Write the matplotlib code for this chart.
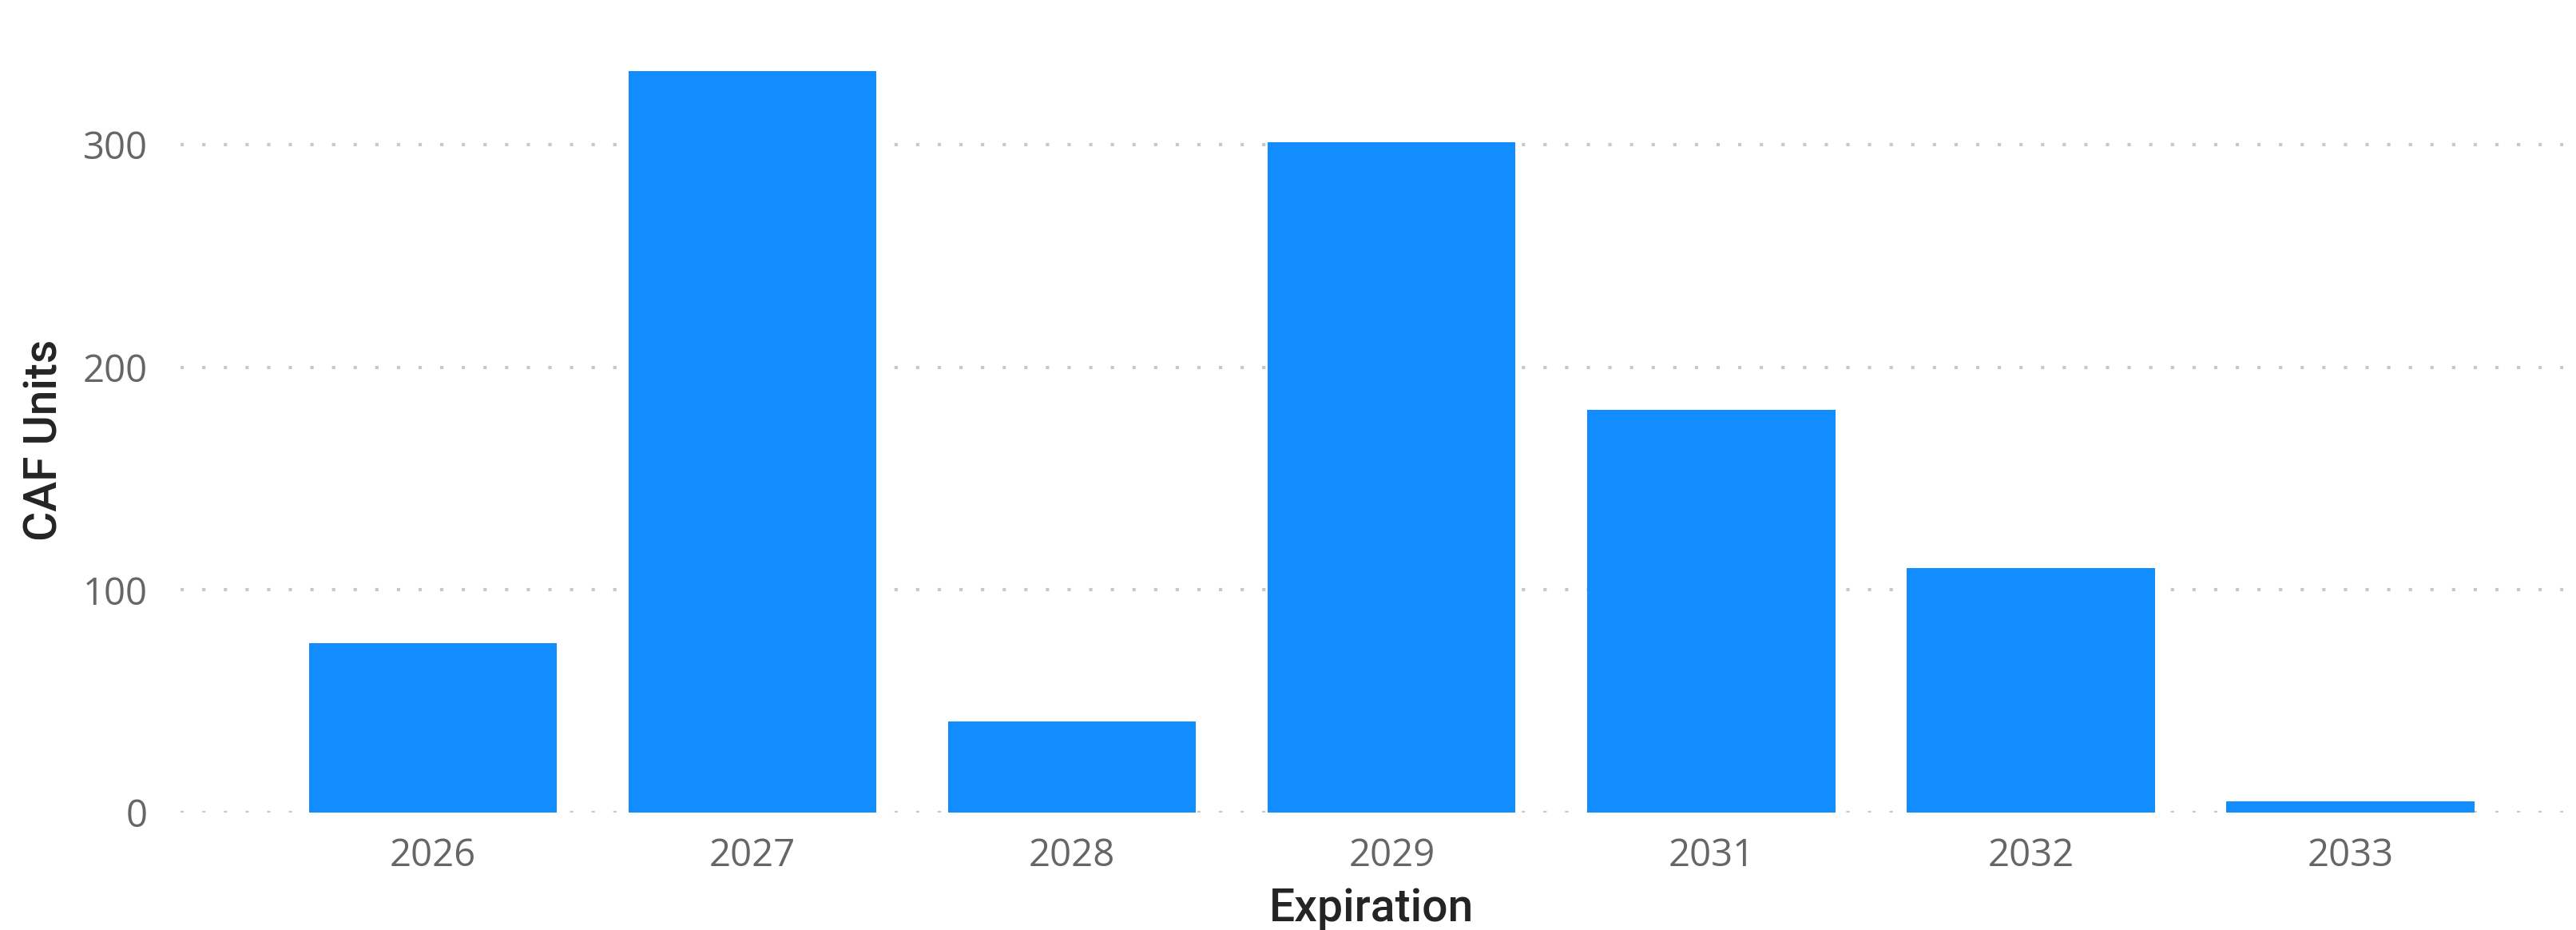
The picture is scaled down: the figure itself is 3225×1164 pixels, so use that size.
import numpy as np
import matplotlib
matplotlib.use("Agg")
import matplotlib.pyplot as plt

# data
years = ["2026", "2027", "2028", "2029", "2031", "2032", "2033"]
units = [76, 333, 41, 301, 181, 110, 5]
yticks = [0, 100, 200, 300]

bar_color = "#118DFF"
tick_color = "#666666"
title_color = "#252423"

fig = plt.figure(figsize=(32.25, 11.64), dpi=100)
ax = fig.add_axes([0.0701, 0.1262, 0.9249, 0.802])

x = np.arange(len(years))
ax.bar(x, units, width=0.776, color=bar_color, zorder=3)

ax.set_xlim(-0.79, len(years) - 1 + 0.666)
ax.set_ylim(0, 335)
ax.set_yticks(yticks)
ax.set_xticks(x)
ax.set_xticklabels(years)

ax.yaxis.grid(True, color="#C8C8C8", linewidth=3, linestyle=(0, (1, 5.5)),
              dash_capstyle="butt", zorder=0)
ax.xaxis.grid(False)
for s in ax.spines.values():
    s.set_visible(False)

ax.tick_params(axis="both", length=0, labelcolor=tick_color, labelsize=34)
ax.tick_params(axis="y", pad=30)
ax.tick_params(axis="x", pad=22)
for lab in ax.get_xticklabels() + ax.get_yticklabels():
    lab.set_family("Open Sans")

ax.set_xlabel("Expiration", fontsize=41, color=title_color, family="Roboto",
              fontweight="medium", labelpad=11)
ax.set_ylabel("CAF Units", fontsize=41, color=title_color, family="Roboto",
              fontweight="medium", labelpad=14)

fig.savefig("out.png", dpi=100, facecolor="white")
